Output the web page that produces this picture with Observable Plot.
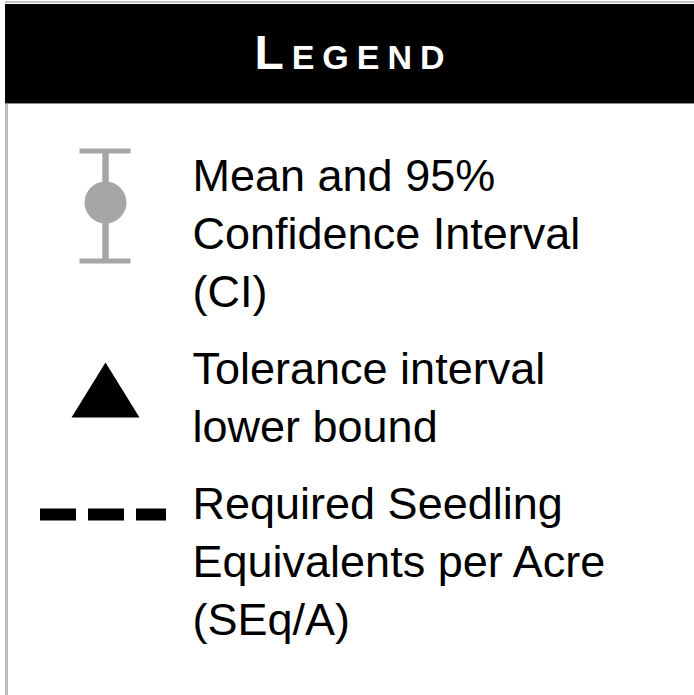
<!DOCTYPE html>
<html><head><meta charset="utf-8">
<script src="https://cdn.jsdelivr.net/npm/d3@7"></script>
<script src="https://cdn.jsdelivr.net/npm/@observablehq/plot@0.6"></script>
<style>
html,body{margin:0;padding:0;background:#fff;}
#page{position:relative;width:694px;height:695px;overflow:hidden;background:#fff;}
#topline{position:absolute;left:5px;top:1px;width:689px;height:2px;background:#c4c4c4;}
#header{position:absolute;left:5px;top:4px;width:689px;height:99px;background:#000;}
#title{position:absolute;left:0;right:0;top:25px;text-align:center;color:#fff;font:bold 48px/48px "Liberation Sans",Arial,sans-serif;font-variant:small-caps;letter-spacing:8px;padding-left:8px;margin:0;}
#headline{position:absolute;left:5px;top:103px;width:689px;height:1px;background:#8c8c8c;}
#chart{position:absolute;left:0;top:104px;}
#leftline{position:absolute;left:5px;top:104px;width:3px;height:591px;background:#bdbdbd;z-index:2;}
</style>
</head><body>
<div id="page">
  <div id="topline"></div>
  <div id="header"><div id="title"></div></div>
  <div id="headline"></div>
  <div id="chart"></div>
  <div id="leftline"></div>
</div>
<script>
// ---- data ----
const title = "Legend";
const entries = ["ci", "tolerance", "required"];
const labels = [
  ["Mean and 95%", "Confidence Interval", "(CI)"],
  ["Tolerance interval", "lower bound"],
  ["Required Seedling", "Equivalents per Acre", "(SEq/A)"]
];

// ---- layout (in line units for y) ----
const layout = {iconX: 105, textX: 192, gap: 19 / 58,
  ciLo: -0.681, ciHi: 1.216, ciMean: 0.207, capHalf: 25.5,
  triY: 0.112, dashY: -0.069, dashX1: 40, dashX2: 166};
const gray = "#a6a6a6";

document.getElementById("title").textContent = title;

// group start positions
const starts = [];
let acc = 0;
labels.forEach((ls, g) => { starts.push(acc + g * layout.gap); acc += ls.length; });

const lines = labels.flatMap((ls, g) => ls.map((t, i) => ({text: t, u: starts[g] + i, x: layout.textX})));

const g0 = starts[entries.indexOf("ci")];
const g1 = starts[entries.indexOf("tolerance")];
const g2 = starts[entries.indexOf("required")];
const ci = [{x: layout.iconX, lo: g0 + layout.ciLo, hi: g0 + layout.ciHi, mean: g0 + layout.ciMean}];
const caps = [ci[0].lo, ci[0].hi].map(y => ({y, x1: layout.iconX - layout.capHalf, x2: layout.iconX + layout.capHalf}));
const tol = [{x: layout.iconX, y: g1 + layout.triY}];
const req = [{y: g2 + layout.dashY, x1: layout.dashX1, x2: layout.dashX2}];

const triangle = {
  draw(ctx, size) {
    const r = Math.sqrt(size / Math.PI);
    ctx.moveTo(0, -r);
    ctx.lineTo(r * 1.236, r);
    ctx.lineTo(-r * 1.236, r);
    ctx.closePath();
  }
};

const chart = Plot.plot({
  width: 694,
  height: 591,
  margin: 0,
  x: {domain: [0, 694], range: [0, 694], axis: null},
  y: {domain: [0, 1], range: [86, 144], axis: null},
  marks: [
    Plot.ruleX(ci, {x: "x", y1: "lo", y2: "hi", stroke: gray, strokeWidth: 6.5}),
    Plot.ruleY(caps, {y: "y", x1: "x1", x2: "x2", stroke: gray, strokeWidth: 5}),
    Plot.dot(ci, {x: "x", y: "mean", r: 21, fill: gray, stroke: "none"}),
    Plot.dot(tol, {x: "x", y: "y", r: 27.5, symbol: triangle, fill: "black", stroke: "none"}),
    Plot.ruleY(req, {y: "y", x1: "x1", x2: "x2", stroke: "black", strokeWidth: 12, strokeDasharray: "36,12"}),
    Plot.text(lines, {x: "x", y: "u", text: "text", textAnchor: "start", lineAnchor: "bottom",
      fontSize: 45, fontFamily: "Liberation Sans, Arial, sans-serif", fill: "black"})
  ]
});
document.getElementById("chart").appendChild(chart);
</script>
</body></html>
